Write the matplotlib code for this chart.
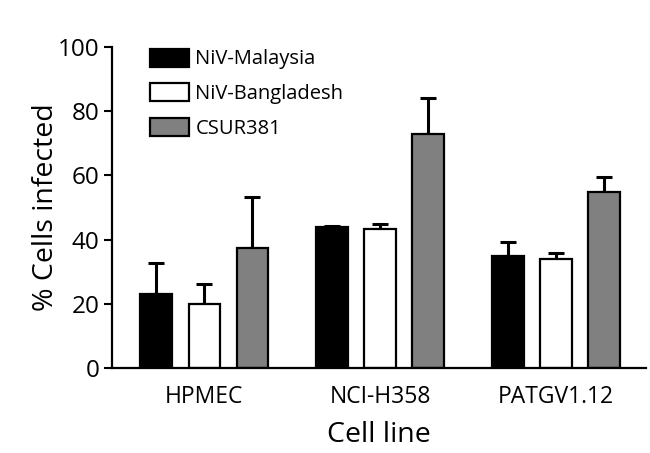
import numpy as np
import matplotlib.pyplot as plt

plt.rcParams['font.family'] = ['Open Sans', 'DejaVu Sans']

cell_lines = ['HPMEC', 'NCI-H358', 'PATGV1.12']
strains = ['NiV-Malaysia', 'NiV-Bangladesh', 'CSUR381']
colors = ['black', 'white', '#808080']

means = {
    'NiV-Malaysia': [23.1, 43.8, 34.8],
    'NiV-Bangladesh': [20.0, 43.4, 33.9],
    'CSUR381': [37.4, 72.8, 54.8],
}
errors = {
    'NiV-Malaysia': [9.5, 0.5, 4.5],
    'NiV-Bangladesh': [6.1, 1.4, 2.0],
    'CSUR381': [16.0, 11.2, 4.7],
}

fig = plt.figure(figsize=(6.5, 4.53), dpi=100)
ax = fig.add_axes([0.172, 0.188, 0.822, 0.708])

x = np.arange(len(cell_lines))
width = 0.18
offset = 0.273
for i, s in enumerate(strains):
    pos = x + (i - 1) * offset
    ax.bar(pos, means[s], width, color=colors[i], edgecolor='black',
           linewidth=1.6, label=s, zorder=2)
    ax.errorbar(pos, means[s], yerr=[np.zeros(3), errors[s]], fmt='none',
                ecolor='black', elinewidth=2.2, capsize=5.5, capthick=2.2, zorder=1)

ax.set_xlim(-0.526, 2.511)
ax.set_ylim(0, 100)
ax.set_yticks(range(0, 101, 20))
ax.set_xticks(x)
ax.set_xticklabels(cell_lines)
ax.tick_params(axis='x', length=0, labelsize=16.5, pad=12)
ax.tick_params(axis='y', labelsize=17.5, width=1.5, length=6, pad=3)
for side in ['top', 'right']:
    ax.spines[side].set_visible(False)
for side in ['left', 'bottom']:
    ax.spines[side].set_linewidth(1.6)

ax.set_ylabel('% Cells infected', fontsize=20.5, labelpad=-2)
ax.set_xlabel('Cell line', fontsize=20.5, labelpad=9)

ax.legend(loc='upper left', bbox_to_anchor=(0.0375, 1.052), frameon=False,
          fontsize=14.5, handlelength=1.95, handleheight=1.0,
          labelspacing=0.68, handletextpad=0.3)

fig.savefig('out.png', dpi=100)
